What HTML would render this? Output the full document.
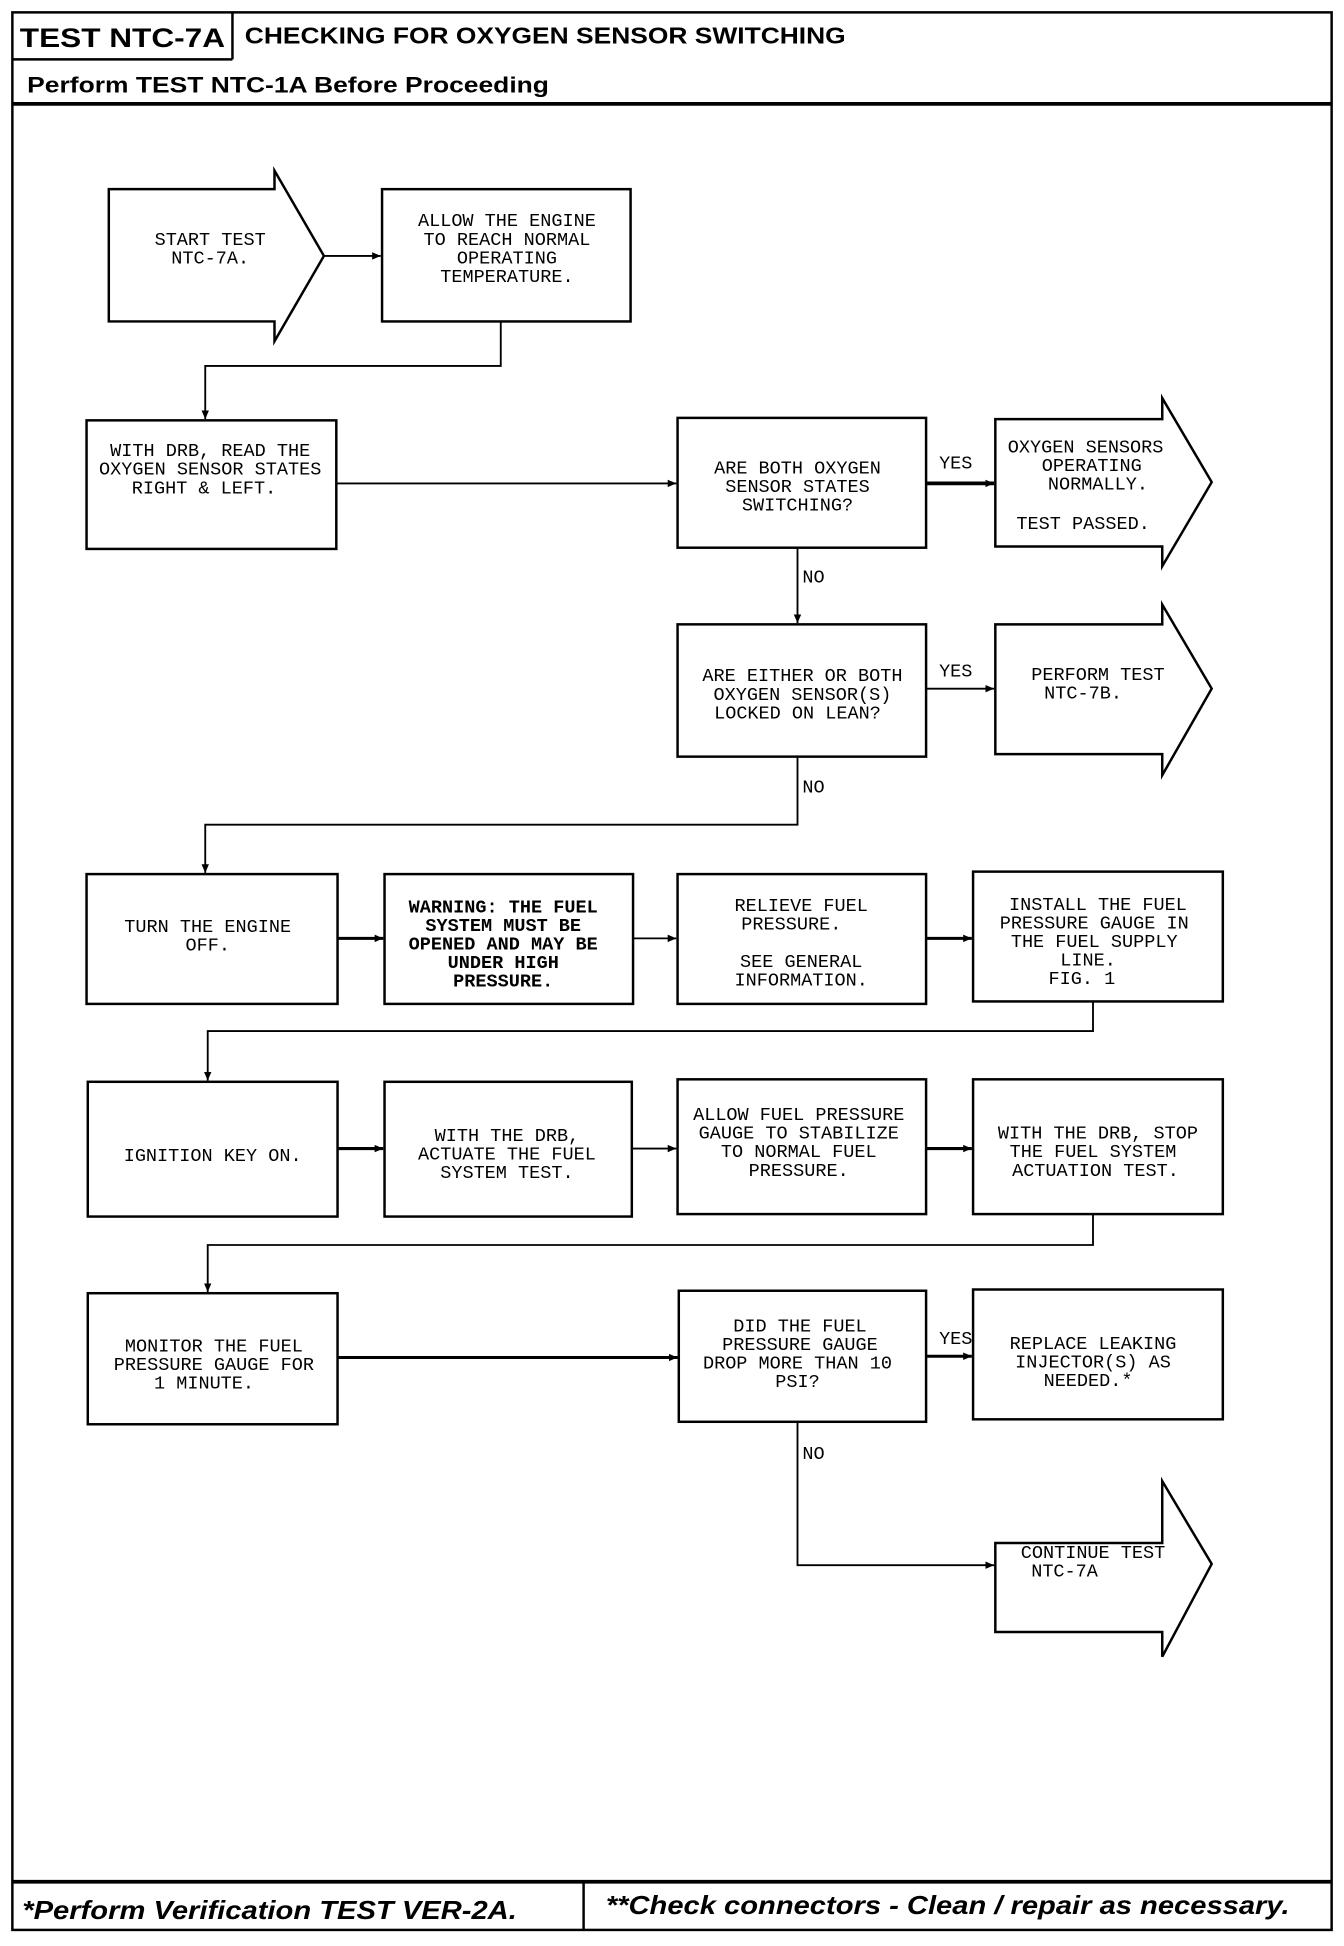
<!DOCTYPE html>
<html><head><meta charset="utf-8"><style>
html,body{margin:0;padding:0;background:#fff}
svg{display:block}
.t{font-family:"Liberation Mono",monospace;font-size:15px;fill:#000;text-anchor:middle}
.b{font-weight:bold}
.h{font-family:"Liberation Sans",sans-serif;font-weight:bold;fill:#000}
</style></head><body>
<svg width="1344" height="1946" viewBox="0 0 1087 1574" preserveAspectRatio="none" xmlns="http://www.w3.org/2000/svg">
<defs><marker id="a" markerWidth="8" markerHeight="8" refX="7" refY="4" orient="auto" markerUnits="userSpaceOnUse"><path d="M0,1 L7,4 L0,7 Z" fill="#000"/></marker></defs>
<g fill="none" stroke="#000" stroke-width="2">
<rect x="10" y="10" width="1067" height="1551"/>
<line x1="10" y1="48" x2="188" y2="48"/><line x1="188" y1="10" x2="188" y2="48"/>
<line x1="10" y1="84" x2="1077" y2="84" stroke-width="3"/>
<line x1="10" y1="1522" x2="1077" y2="1522" stroke-width="3"/>
<line x1="472" y1="1522" x2="472" y2="1561"/>
<path d="M88,153 H222 V138 L262,207 L222,276 V260 H88 Z"/>
<path d="M805,339 H940 V322 L980,390 L940,458 V442 H805 Z"/>
<path d="M805,505 H940 V489 L980,557 L940,627 V610 H805 Z"/>
<path d="M805,1248 H940 V1198 L980,1265 L940,1340 V1320 H805 Z"/>
<rect x="309" y="153" width="201" height="107"/>
<rect x="70" y="340" width="202" height="104"/>
<rect x="548" y="338" width="201" height="105"/>
<rect x="548" y="505" width="201" height="107"/>
<rect x="70" y="707" width="203" height="105"/>
<rect x="311" y="707" width="201" height="105"/>
<rect x="548" y="707" width="201" height="105"/>
<rect x="787" y="705" width="202" height="105"/>
<rect x="71" y="875" width="202" height="109"/>
<rect x="311" y="875" width="200" height="109"/>
<rect x="548" y="873" width="201" height="109"/>
<rect x="787" y="873" width="202" height="109"/>
<rect x="71" y="1046" width="202" height="106"/>
<rect x="549" y="1044" width="200" height="106"/>
<rect x="787" y="1043" width="202" height="105"/>
</g>
<g fill="none" stroke="#000" stroke-width="1.5">
<line x1="262" y1="207" x2="308" y2="207" marker-end="url(#a)"/>
<path d="M405,260 V296 H166 V339" marker-end="url(#a)"/>
<line x1="272" y1="391" x2="547" y2="391" marker-end="url(#a)"/>
<line x1="749" y1="391" x2="804" y2="391" stroke-width="3" marker-end="url(#a)"/>
<line x1="645" y1="443" x2="645" y2="504" marker-end="url(#a)"/>
<line x1="749" y1="557" x2="804" y2="557" marker-end="url(#a)"/>
<path d="M645,612 V667 H166 V706" marker-end="url(#a)"/>
<line x1="273" y1="759" x2="310" y2="759" stroke-width="2.5" marker-end="url(#a)"/>
<line x1="512" y1="759" x2="547" y2="759" marker-end="url(#a)"/>
<line x1="749" y1="759" x2="786" y2="759" stroke-width="2.5" marker-end="url(#a)"/>
<path d="M884,810 V834 H168 V874" marker-end="url(#a)"/>
<line x1="273" y1="929" x2="310" y2="929" stroke-width="2.5" marker-end="url(#a)"/>
<line x1="511" y1="929" x2="547" y2="929" marker-end="url(#a)"/>
<line x1="749" y1="929" x2="786" y2="929" stroke-width="2.5" marker-end="url(#a)"/>
<path d="M884,982 V1007 H168 V1045" marker-end="url(#a)"/>
<line x1="273" y1="1098" x2="548" y2="1098" stroke-width="2.5" marker-end="url(#a)"/>
<line x1="749" y1="1097" x2="786" y2="1097" stroke-width="2.5" marker-end="url(#a)"/>
<path d="M645,1150 V1266 H804" marker-end="url(#a)"/>
</g>
<text class="h" x="16" y="38" font-size="22" textLength="166" lengthAdjust="spacingAndGlyphs">TEST NTC-7A</text>
<text class="h" x="198" y="35" font-size="19" textLength="486" lengthAdjust="spacingAndGlyphs">CHECKING FOR OXYGEN SENSOR SWITCHING</text>
<text class="h" x="22" y="75" font-size="18" textLength="422" lengthAdjust="spacingAndGlyphs">Perform TEST NTC-1A Before Proceeding</text>
<text class="h" x="18" y="1552" font-size="21" font-style="italic" textLength="400" lengthAdjust="spacingAndGlyphs">*Perform Verification TEST VER-2A.</text>
<text class="h" x="490" y="1548" font-size="21" font-style="italic" textLength="553" lengthAdjust="spacingAndGlyphs">**Check connectors - Clean / repair as necessary.</text>
<g class="t">
<text x="170" y="198">START TEST</text><text x="170" y="213">NTC-7A.</text>
<text x="410" y="183">ALLOW THE ENGINE</text><text x="410" y="198">TO REACH NORMAL</text><text x="410" y="213">OPERATING</text><text x="410" y="228">TEMPERATURE.</text>
<text x="170" y="369">WITH DRB, READ THE</text><text x="170" y="384">OXYGEN SENSOR STATES</text><text x="165" y="399">RIGHT &amp; LEFT.</text>
<text x="645" y="383">ARE BOTH OXYGEN</text><text x="645" y="398">SENSOR STATES</text><text x="645" y="413">SWITCHING?</text>
<text x="773" y="379">YES</text><text x="658" y="471">NO</text>
<text x="878" y="366">OXYGEN SENSORS</text><text x="883" y="381">OPERATING</text><text x="888" y="396">NORMALLY.</text><text x="876" y="428">TEST PASSED.</text>
<text x="649" y="551">ARE EITHER OR BOTH</text><text x="649" y="566">OXYGEN SENSOR(S)</text><text x="645" y="581">LOCKED ON LEAN?</text>
<text x="773" y="547">YES</text><text x="658" y="641">NO</text>
<text x="888" y="550">PERFORM TEST</text><text x="876" y="565">NTC-7B.</text>
<text x="168" y="754">TURN THE ENGINE</text><text x="168" y="769">OFF.</text>
<g class="b"><text x="407" y="738">WARNING: THE FUEL</text><text x="407" y="753">SYSTEM MUST BE</text><text x="407" y="768">OPENED AND MAY BE</text><text x="407" y="783">UNDER HIGH</text><text x="407" y="798">PRESSURE.</text></g>
<text x="648" y="737">RELIEVE FUEL</text><text x="640" y="752">PRESSURE.</text><text x="648" y="782">SEE GENERAL</text><text x="648" y="797">INFORMATION.</text>
<text x="888" y="736">INSTALL THE FUEL</text><text x="885" y="751">PRESSURE GAUGE IN</text><text x="885" y="766">THE FUEL SUPPLY</text><text x="880" y="781">LINE.</text><text x="875" y="796">FIG. 1</text>
<text x="172" y="939">IGNITION KEY ON.</text>
<text x="410" y="923">WITH THE DRB,</text><text x="410" y="938">ACTUATE THE FUEL</text><text x="410" y="953">SYSTEM TEST.</text>
<text x="646" y="906">ALLOW FUEL PRESSURE</text><text x="646" y="921">GAUGE TO STABILIZE</text><text x="646" y="936">TO NORMAL FUEL</text><text x="646" y="951">PRESSURE.</text>
<text x="888" y="921">WITH THE DRB, STOP</text><text x="884" y="936">THE FUEL SYSTEM</text><text x="886" y="951">ACTUATION TEST.</text>
<text x="173" y="1093">MONITOR THE FUEL</text><text x="173" y="1108">PRESSURE GAUGE FOR</text><text x="165" y="1123">1 MINUTE.</text>
<text x="647" y="1077">DID THE FUEL</text><text x="647" y="1092">PRESSURE GAUGE</text><text x="645" y="1107">DROP MORE THAN 10</text><text x="645" y="1122">PSI?</text>
<text x="773" y="1087">YES</text><text x="658" y="1180">NO</text>
<text x="884" y="1091">REPLACE LEAKING</text><text x="884" y="1106">INJECTOR(S) AS</text><text x="880" y="1121">NEEDED.*</text>
<text x="884" y="1260">CONTINUE TEST</text><text x="861" y="1275">NTC-7A</text>
</g>
</svg>
</body></html>
